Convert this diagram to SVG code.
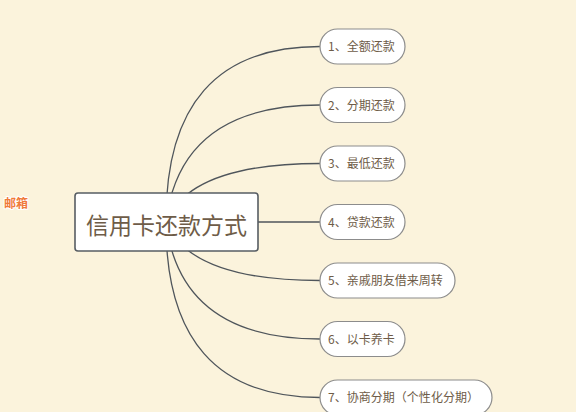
<svg xmlns="http://www.w3.org/2000/svg" width="576" height="412" viewBox="0 0 576 412">
<style>
.bg{fill:#fbf3dc}
.conn{fill:none;stroke:#4f555b;stroke-width:1.3}
.pill{fill:#ffffff;stroke:#8c8c8c;stroke-width:1.2}
.pt{font-family:"Noto Sans CJK SC","Liberation Sans",sans-serif;font-size:12px;fill:#6e5c48}
.main{fill:#ffffff;stroke:#575d63;stroke-width:1.6}
.mt{font-family:"Noto Sans CJK SC","Liberation Sans",sans-serif;font-size:23px;fill:#6e5c48}
.tag{font-family:"Noto Sans CJK SC","Liberation Sans",sans-serif;font-size:12px;font-weight:bold;fill:#f07a3a;stroke:#ffffff;stroke-width:2;paint-order:stroke}
</style>
<rect class="bg" x="0" y="0" width="576" height="412"/>
<g id="connectors">
<path class="conn" d="M166,222 Q165,46.5 320,46.5"/>
<path class="conn" d="M166,222 Q180,105 320,105"/>
<path class="conn" d="M166,222 Q190,163.5 320,163.5"/>
<path class="conn" d="M166,222 L320,222"/>
<path class="conn" d="M166,222 Q190,280.5 320,280.5"/>
<path class="conn" d="M166,222 Q180,339 320,339"/>
<path class="conn" d="M166,222 Q165,397.5 320,397.5"/>
</g>
<g id="root">
<rect class="main" x="75" y="193" width="183" height="58" rx="3"/>
<text class="mt" x="166.5" y="234" text-anchor="middle">信用卡还款方式</text>
</g>
<g id="n1"><rect class="pill" x="320" y="29" width="85" height="35" rx="17.5"/><text class="pt" x="328" y="51">1、全额还款</text></g>
<g id="n2"><rect class="pill" x="320" y="87.5" width="85" height="35" rx="17.5"/><text class="pt" x="328" y="109.5">2、分期还款</text></g>
<g id="n3"><rect class="pill" x="320" y="146" width="85" height="35" rx="17.5"/><text class="pt" x="328" y="168">3、最低还款</text></g>
<g id="n4"><rect class="pill" x="320" y="204.5" width="85" height="35" rx="17.5"/><text class="pt" x="328" y="226.5">4、贷款还款</text></g>
<g id="n5"><rect class="pill" x="320" y="263" width="135" height="35" rx="17.5"/><text class="pt" x="328" y="285">5、亲戚朋友借来周转</text></g>
<g id="n6"><rect class="pill" x="320" y="321.5" width="85" height="35" rx="17.5"/><text class="pt" x="328" y="343.5">6、以卡养卡</text></g>
<g id="n7"><rect class="pill" x="320" y="380" width="172" height="35" rx="17.5"/><text class="pt" x="328" y="402" textLength="151" lengthAdjust="spacingAndGlyphs">7、协商分期（个性化分期）</text></g>
<g id="tag"><text class="tag" x="4" y="208">邮箱</text></g>
</svg>
